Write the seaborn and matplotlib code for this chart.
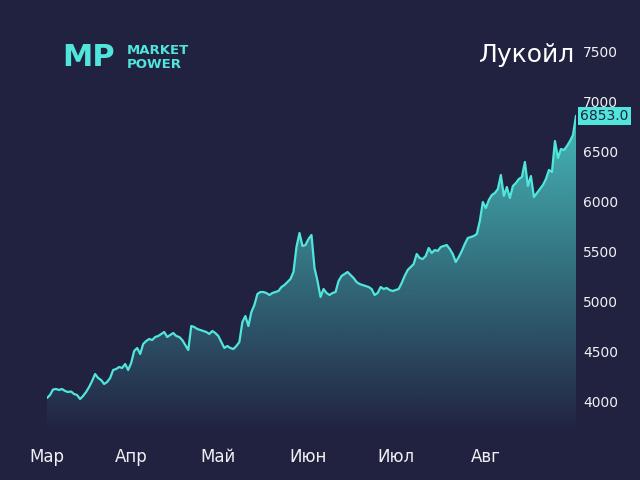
import numpy as np
import pandas as pd
import matplotlib
matplotlib.use("Agg")
import matplotlib.pyplot as plt
from matplotlib.colors import to_rgb
import seaborn as sns

# Lukoil share price, Mar - Aug (evenly spaced samples)
prices = [
    4030, 4060, 4115, 4120, 4110, 4120, 4100, 4090, 4095, 4070,
    4060, 4020, 4050, 4090, 4140, 4200, 4270, 4230, 4210, 4170,
    4190, 4230, 4310, 4320, 4340, 4330, 4370, 4310, 4380, 4500,
    4530, 4470, 4570, 4600, 4620, 4610, 4640, 4650, 4670, 4690,
    4640, 4660, 4680, 4650, 4640, 4610, 4560, 4510, 4750, 4740,
    4720, 4710, 4700, 4690, 4670, 4700, 4680, 4650, 4590, 4530,
    4550, 4530, 4520, 4550, 4590, 4790, 4850, 4750, 4890, 4960,
    5070, 5090, 5090, 5080, 5060, 5080, 5090, 5100, 5140, 5160,
    5190, 5220, 5290, 5540, 5680, 5550, 5560, 5620, 5660, 5330,
    5200, 5040, 5120, 5080, 5060, 5080, 5090, 5200, 5250, 5270,
    5290, 5260, 5230, 5190, 5170, 5160, 5150, 5140, 5120, 5060,
    5080, 5140, 5120, 5130, 5110, 5100, 5110, 5120, 5180, 5250,
    5310, 5340, 5370, 5470, 5430, 5420, 5450, 5530, 5480, 5510,
    5500, 5540, 5550, 5560, 5520, 5470, 5390, 5440, 5500, 5570,
    5630, 5640, 5650, 5670, 5800, 5990, 5930, 6010, 6060, 6080,
    6120, 6260, 6050, 6140, 6030, 6150, 6180, 6220, 6240, 6390,
    6150, 6250, 6040, 6080, 6120, 6160, 6220, 6310, 6290, 6600,
    6430, 6520, 6510, 6550, 6600, 6660, 6853,
]
month_labels = ["Мар", "Апр", "Май", "Июн", "Июл", "Авг"]
month_start_idx = [0, 28, 57, 87, 116, 146]
y_ticks = [4000, 4500, 5000, 5500, 6000, 6500, 7000, 7500]

BG = "#212140"
LINE = "#50e6dc"

df = pd.DataFrame({"i": np.arange(len(prices)), "price": prices})

sns.set_style("dark", {"axes.facecolor": BG, "figure.facecolor": BG})
plt.rcParams["font.family"] = ["DejaVu Sans"]

fig = plt.figure(figsize=(6.4, 4.8), dpi=100)
ax = fig.add_axes([47 / 640, 44 / 480, 529 / 640, 416 / 480])
ax.set_facecolor(BG)

ymin, ymax = 3650, 7810
xmax = len(prices) - 1

# gradient fill under the curve
grad = np.zeros((256, 1, 4))
grad[:, 0, :3] = to_rgb(LINE)
grad[:, 0, 3] = np.linspace(0, 1, 256)
im = ax.imshow(grad, aspect="auto", origin="lower",
               extent=[0, xmax, ymin, ymax], zorder=1)
poly = ax.fill_between(df["i"], df["price"], ymin, color="none")
im.set_clip_path(poly.get_paths()[0], transform=ax.transData)

sns.lineplot(data=df, x="i", y="price", color=LINE, linewidth=1.6, ax=ax, zorder=3)

ax.set_xlim(0, xmax)
ax.set_ylim(ymin, ymax)
ax.set_xlabel("")
ax.set_ylabel("")
ax.grid(False)
for s in ax.spines.values():
    s.set_visible(False)

ax.set_xticks(month_start_idx)
ax.set_xticklabels(month_labels)
ax.set_yticks(y_ticks)
ax.yaxis.tick_right()
ax.tick_params(axis="x", length=0, pad=9, labelsize=12, labelcolor="#f0f0f5")
ax.tick_params(axis="y", length=0, pad=5, labelsize=10, labelcolor="#f0f0f5")

# last price badge
ax.annotate(f"{prices[-1]:.1f}", xy=(xmax, prices[-1]), xytext=(3, 0),
            textcoords="offset points", ha="left", va="center",
            fontsize=10, color=BG, annotation_clip=False, zorder=5,
            bbox=dict(boxstyle="square,pad=0.15", fc=LINE, ec="none"))

# title and logo
fig.text(575 / 640, 1 - 55 / 480, "Лукойл", ha="right", va="center",
         fontsize=18, color="white")
fig.text(62 / 640, 1 - 58 / 480, "MP", ha="left", va="center",
         fontsize=22, fontweight="heavy", color=LINE)
fig.text(127 / 640, 1 - 51 / 480, "MARKET", ha="left", va="center",
         fontsize=9.5, fontweight="bold", color=LINE)
fig.text(127 / 640, 1 - 64 / 480, "POWER", ha="left", va="center",
         fontsize=9.5, fontweight="bold", color=LINE)

fig.savefig("out.png", dpi=100, facecolor=BG)
